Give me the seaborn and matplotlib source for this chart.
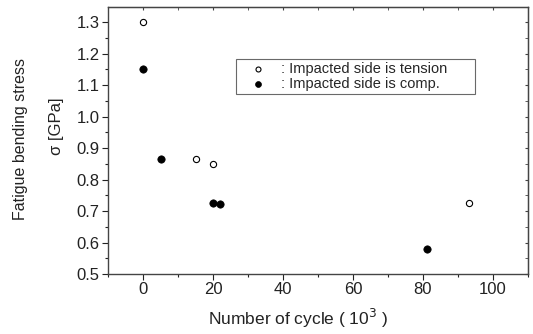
import pandas as pd
import seaborn as sns
import matplotlib.pyplot as plt
from matplotlib.ticker import MultipleLocator

# Data
tension_cycles = [0, 15, 20, 93]
tension_stress = [1.30, 0.865, 0.85, 0.725]
comp_cycles = [0, 5, 20, 22, 81]
comp_stress = [1.15, 0.865, 0.725, 0.722, 0.578]
labels = [": Impacted side is tension", ": Impacted side is comp."]

df = pd.concat([
    pd.DataFrame({"cycles": tension_cycles, "stress": tension_stress, "side": labels[0]}),
    pd.DataFrame({"cycles": comp_cycles, "stress": comp_stress, "side": labels[1]}),
])

sns.set_style("ticks")
plt.rcParams["font.family"] = ["Liberation Sans", "DejaVu Sans"]

fig = plt.figure(figsize=(5.33, 3.34), dpi=100)
ax = fig.add_axes([108 / 533, 1 - 274 / 334, 420 / 533, 267 / 334])

tens = df[df["side"] == labels[0]]
comp = df[df["side"] == labels[1]]
sns.scatterplot(data=tens, x="cycles", y="stress", ax=ax, marker="o", s=20,
                facecolor="white", edgecolor="black", linewidth=0.8,
                label=labels[0] + "      ")
sns.scatterplot(data=comp, x="cycles", y="stress", ax=ax, marker="o", s=28,
                color="black", edgecolor="black", linewidth=0.5,
                label=labels[1])

ax.set_xlim(-10, 110)
ax.set_ylim(0.5, 1.348)
ax.xaxis.set_major_locator(MultipleLocator(20))
ax.xaxis.set_minor_locator(MultipleLocator(10))
ax.yaxis.set_major_locator(MultipleLocator(0.1))
ax.yaxis.set_minor_locator(MultipleLocator(0.05))
ax.yaxis.set_major_formatter(plt.FormatStrFormatter("%.1f"))
ax.tick_params(which="major", direction="out", length=4, width=0.8,
               labelsize=12, colors="#222222", pad=2)
ax.tick_params(which="minor", direction="out", length=2.5, width=0.8,
               colors="#222222")

for side in ["top", "right", "bottom", "left"]:
    ax.spines[side].set_visible(True)
    ax.spines[side].set_color("#444444")
    ax.spines[side].set_linewidth(1.0)

# small inward ticks on top and right
top = ax.secondary_xaxis("top")
top.xaxis.set_major_locator(MultipleLocator(20))
top.xaxis.set_minor_locator(MultipleLocator(10))
top.tick_params(which="both", direction="in", length=2.5, labeltop=False,
                colors="#444444")
right = ax.secondary_yaxis("right")
right.yaxis.set_major_locator(MultipleLocator(0.1))
right.yaxis.set_minor_locator(MultipleLocator(0.05))
right.tick_params(which="both", direction="in", length=2.5, labelright=False,
                  colors="#444444")

ax.set_xlabel("")
ax.set_ylabel("")
fig.text(298 / 533, 1 - 318 / 334, "Number of cycle ( 10$^3$ )",
         fontsize=12.5, ha="center", va="center", color="#222222")
fig.text(20 / 533, 1 - 139 / 334, "Fatigue bending stress", fontsize=11.5,
         rotation=90, ha="center", va="center", color="#222222")
fig.text(57 / 533, 1 - 126 / 334, "\u03c3 [GPa]", fontsize=12,
         rotation=90, ha="center", va="center", color="#222222")

leg = ax.legend(loc="upper left", bbox_to_anchor=(128 / 420, 1 - 52 / 267),
                frameon=True, fancybox=False, fontsize=10.5,
                handletextpad=0.3, borderpad=0.2, labelspacing=0.05,
                handlelength=2.6, borderaxespad=0, markerscale=0.8)
leg.get_frame().set_edgecolor("#444444")
leg.get_frame().set_linewidth(0.8)

fig.savefig("out.png", dpi=100)
